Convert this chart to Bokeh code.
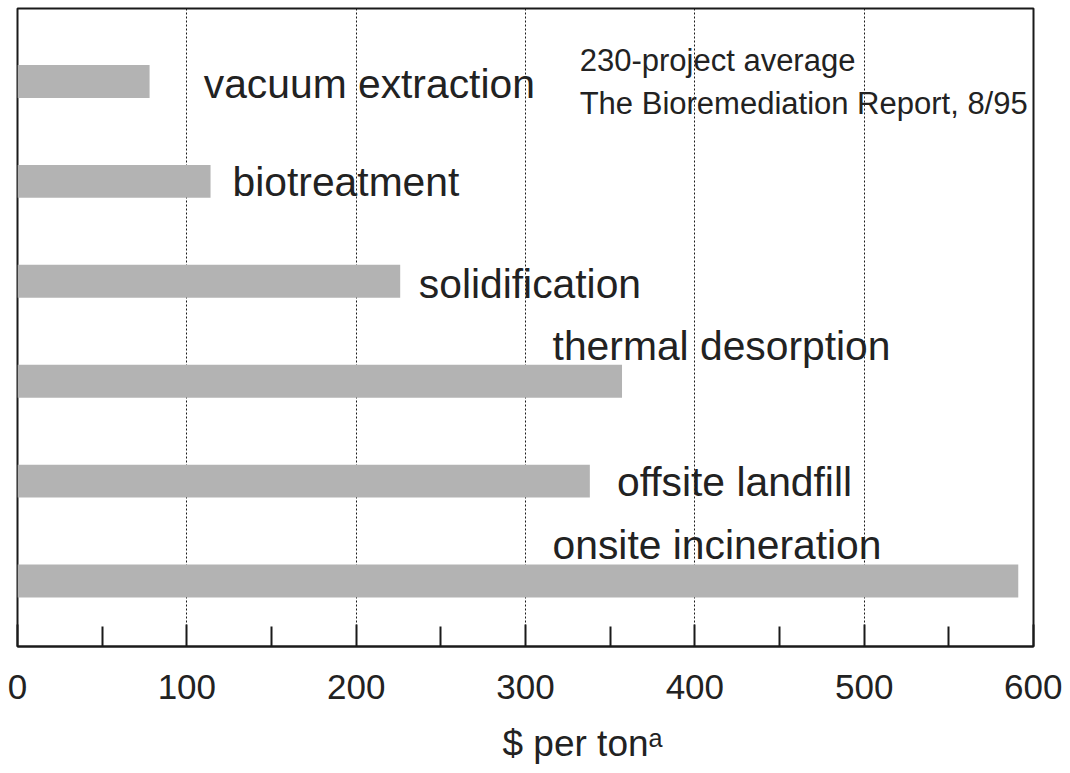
from bokeh.plotting import figure
from bokeh.models import Range1d, FixedTicker, Label, ColumnDataSource, Title
from bokeh.core.properties import value
from bokeh.embed import file_html
from bokeh.resources import INLINE

# ---- data ----
categories = ["vacuum extraction", "biotreatment", "solidification",
              "thermal desorption", "offsite landfill", "onsite incineration"]
cost_per_ton = [78, 114, 226, 357, 338, 591]
x_ticks = [0, 100, 200, 300, 400, 500, 600]
x_minor = [50, 150, 250, 350, 450, 550]
note_lines = ["230-project average", "The Bioremediation Report, 8/95"]
axis_title = "$ per ton\u1d43"

# ---- layout (styling) ----
label_x = [110, 127, 237, 316, 354, 316]
label_dy = [-0.03, -0.01, -0.03, 0.355, -0.01, 0.36]
FONT = "Liberation Sans"
TXT = "#222222"

n = len(categories)
ypos = [n - 1 - i for i in range(n)]

p = figure(width=1062, height=773, output_backend="svg", toolbar_location=None,
           x_range=Range1d(0, 600), y_range=Range1d(-0.655, 5.73),
           frame_width=1016, frame_height=638,
           min_border_left=17, min_border_top=8, min_border_right=29,
           min_border_bottom=0,
           x_axis_location="below", y_axis_location=None)
p.background_fill_color = "white"
p.border_fill_color = "white"
p.outline_line_color = "#1a1a1a"
p.outline_line_width = 2

src = ColumnDataSource(dict(y=ypos, right=cost_per_ton))
p.hbar(y="y", left=0, right="right", height=0.33, source=src,
       fill_color="#b3b3b3", line_color=None)

ly = [ypos[i] + label_dy[i] for i in range(n)]
p.text(x=label_x, y=ly, text=categories, text_font=value(FONT),
       text_font_size="40.8px", text_baseline="middle", text_align="left",
       text_color=TXT)

# axis
ax = p.xaxis[0]
ax.ticker = FixedTicker(ticks=x_ticks, minor_ticks=x_minor)
ax.major_tick_in = 22
ax.major_tick_out = 0
ax.minor_tick_in = 20
ax.minor_tick_out = 0
ax.major_tick_line_color = "#1a1a1a"
ax.minor_tick_line_color = "#1a1a1a"
ax.major_tick_line_width = 2
ax.minor_tick_line_width = 2
ax.axis_line_color = "#1a1a1a"
ax.axis_line_width = 2
ax.major_label_text_font = FONT
ax.major_label_text_font_size = "35px"
ax.major_label_text_color = TXT
ax.major_label_standoff = 28

# grid
p.ygrid.visible = False
p.xgrid.ticker = FixedTicker(ticks=[100, 200, 300, 400, 500])
p.xgrid.grid_line_color = "#1a1a1a"
p.xgrid.grid_line_dash = "2 2"
p.xgrid.grid_line_width = 1

# notes
p.add_layout(Label(x=332, y=5.21, text=note_lines[0], text_font=FONT,
                   text_font_size="31px", text_baseline="middle", text_color=TXT))
p.add_layout(Label(x=332, y=4.78, text=note_lines[1], text_font=FONT,
                   text_font_size="31px", text_baseline="middle", text_color=TXT))

# axis title (with superscript a)
p.add_layout(Title(text=axis_title, align="left", offset=485, standoff=38,
                   text_font=FONT, text_font_size="37px",
                   text_font_style="normal", text_color=TXT), "below")

open("out.html", "w").write(file_html(p, INLINE))
